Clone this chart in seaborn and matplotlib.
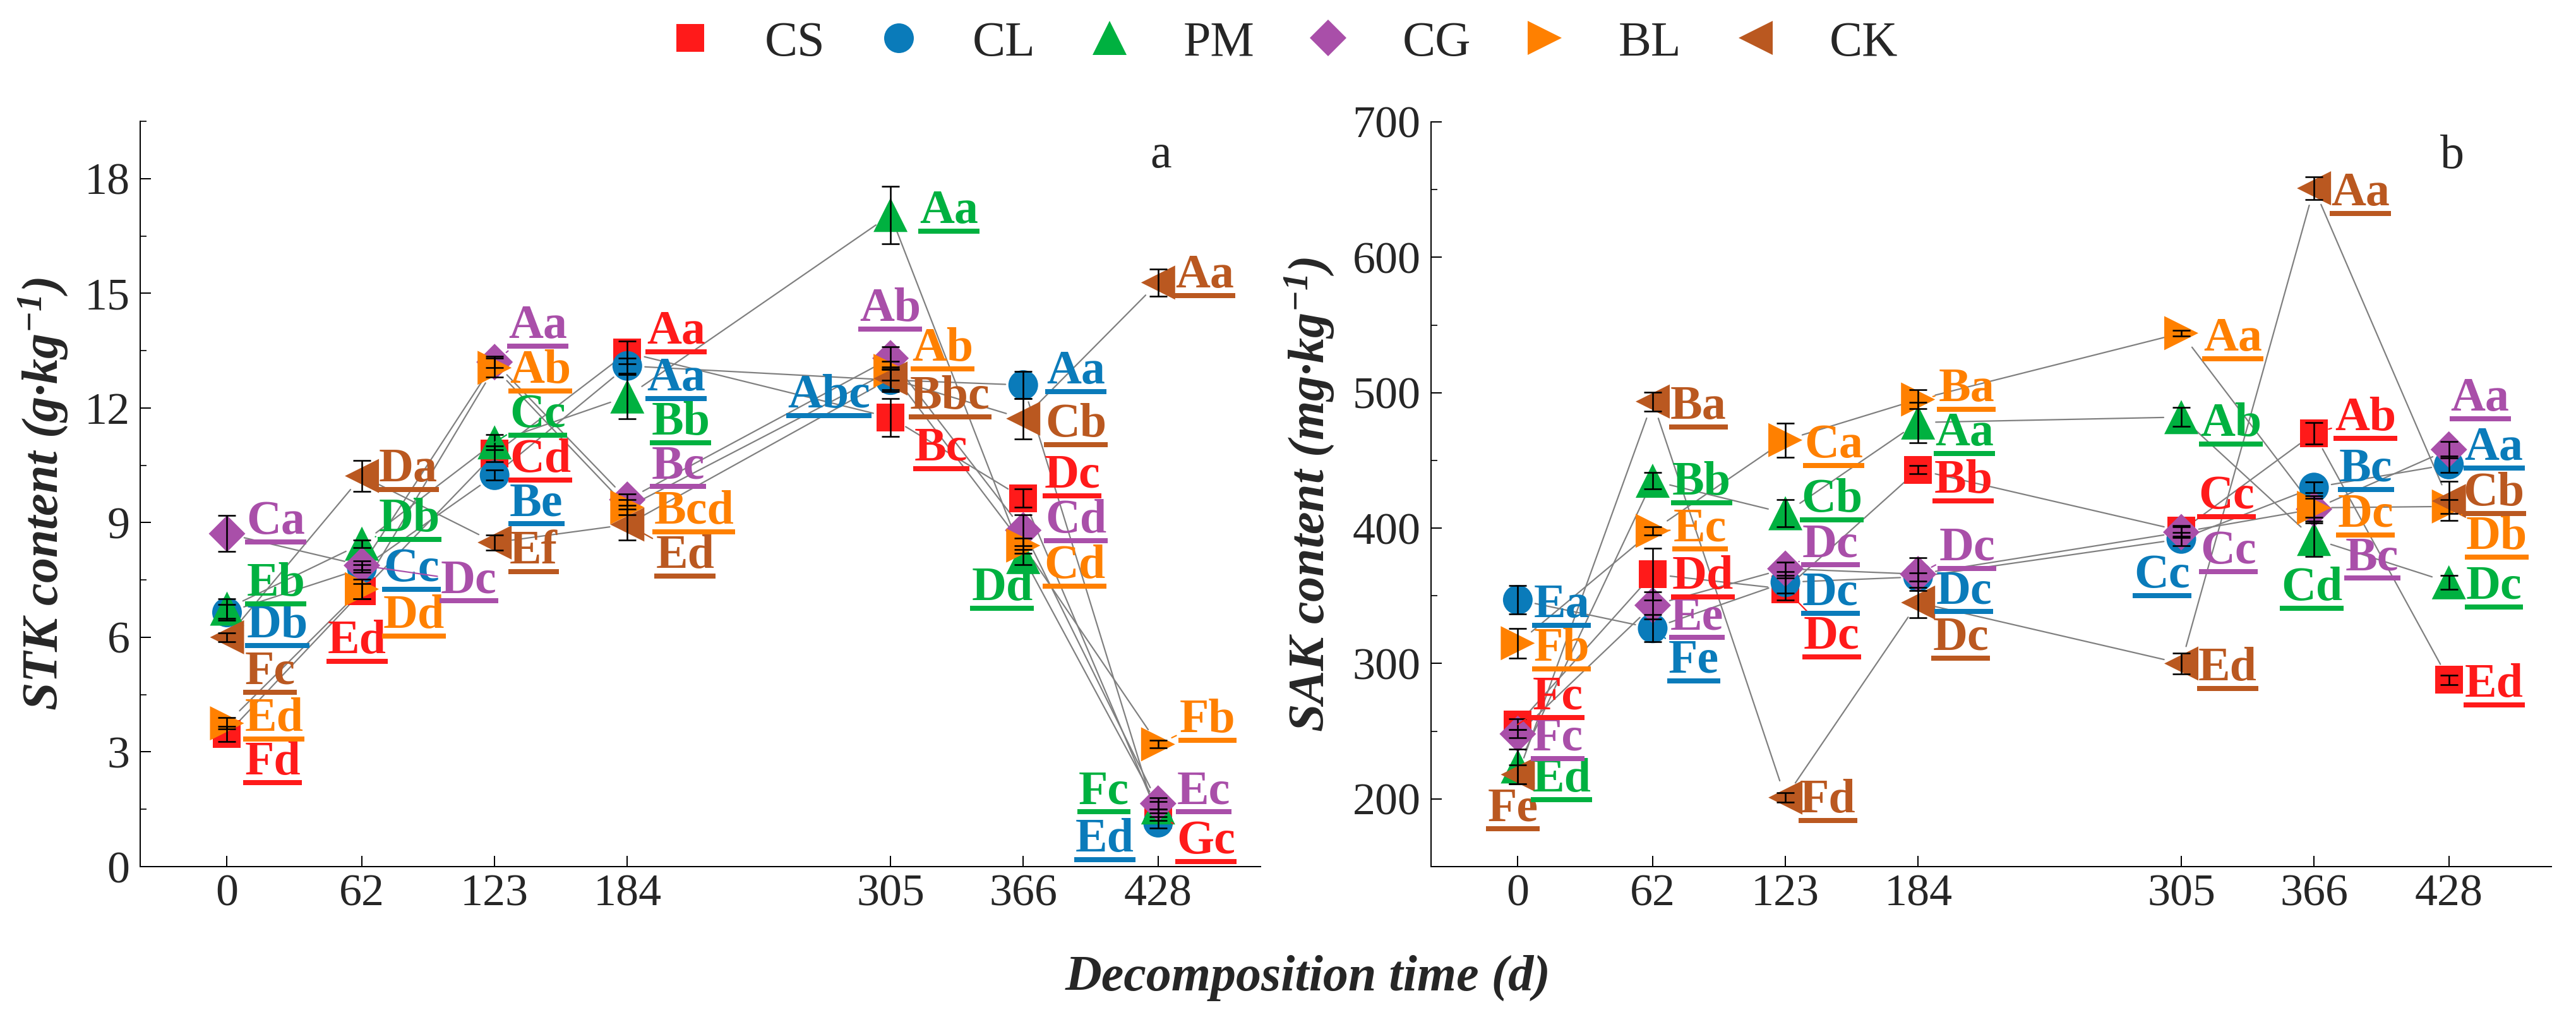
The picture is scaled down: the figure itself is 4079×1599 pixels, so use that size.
import numpy as np
import pandas as pd
import seaborn as sns
import matplotlib.pyplot as plt
from matplotlib import font_manager
from matplotlib.lines import Line2D
from matplotlib.text import Text
from matplotlib.ticker import MultipleLocator
from matplotlib.transforms import IdentityTransform

days = [0, 62, 123, 184, 305, 366, 428]
treatments = ['CS', 'CL', 'PM', 'CG', 'BL', 'CK']

# panel a: STK content (g/kg), mean and sd
stk_cs = [3.47, 7.2, 10.8, 13.45, 11.75, 9.64, 1.35]
stk_cl = [6.65, 7.8, 10.24, 13.1, 12.73, 12.6, 1.15]
stk_pm = [6.75, 8.45, 11.1, 12.3, 17.05, 8.1, 1.55]
stk_cg = [8.71, 7.88, 13.2, 9.6, 13.3, 8.8, 1.65]
stk_bl = [3.75, 7.26, 13.05, 9.4, 12.97, 8.4, 3.2]
stk_ck = [6.0, 10.22, 8.48, 8.95, 12.77, 11.72, 15.28]

stk_cs_sd = [0.2, 0.2, 0.2, 0.3, 0.5, 0.24, 0.15]
stk_cl_sd = [0.2, 0.1, 0.13, 0.2, 0.3, 0.35, 0.15]
stk_pm_sd = [0.25, 0.1, 0.2, 0.58, 0.75, 0.2, 0.15]
stk_cg_sd = [0.47, 0.12, 0.15, 0.15, 0.3, 0.4, 0.15]
stk_bl_sd = [0.15, 0.26, 0.25, 0.2, 0.25, 0.2, 0.1]
stk_ck_sd = [0.12, 0.4, 0.2, 0.4, 0.3, 0.53, 0.35]

stk_cs_lab = ['Fd', 'Ed', 'Cd', 'Aa', 'Bc', 'Dc', 'Gc']
stk_cl_lab = ['Db', 'Cc', 'Be', 'Aa', 'Abc', 'Aa', 'Ed']
stk_pm_lab = ['Eb', 'Db', 'Cc', 'Bb', 'Aa', 'Dd', 'Fc']
stk_cg_lab = ['Ca', 'Dc', 'Aa', 'Bc', 'Ab', 'Cd', 'Ec']
stk_bl_lab = ['Ed', 'Dd', 'Ab', 'Bcd', 'Ab', 'Cd', 'Fb']
stk_ck_lab = ['Fc', 'Da', 'Ef', 'Ed', 'Bbc', 'Cb', 'Aa']

# panel b: SAK content (mg/kg), mean and sd
sak_cs = [255, 366, 355, 443, 398, 470, 288]
sak_cl = [347, 326, 360, 364, 392, 430, 447]
sak_pm = [224, 435, 411, 478, 482, 392, 360]
sak_cg = [248, 343, 370, 366, 397, 414, 458]
sak_bl = [315, 398, 465, 495, 544, 415, 416]
sak_ck = [218, 493.5, 201, 345, 300, 651, 420]

sak_cs_sd = [4, 19, 8, 3, 4, 8, 3.5]
sak_cl_sd = [10.5, 10, 8, 3, 5, 4, 6]
sak_pm_sd = [13, 6, 10, 15, 7, 13, 5]
sak_cg_sd = [3, 10, 5, 12, 4, 10, 6]
sak_bl_sd = [11, 3, 12.5, 7, 2, 7, 5]
sak_ck_sd = [7, 7, 3.5, 11, 7.5, 8.5, 14.5]

sak_cs_lab = ['Fc', 'Dd', 'Dc', 'Bb', 'Cc', 'Ab', 'Ed']
sak_cl_lab = ['Ea', 'Fe', 'Dc', 'Dc', 'Cc', 'Bc', 'Aa']
sak_pm_lab = ['Ed', 'Bb', 'Cb', 'Aa', 'Ab', 'Cd', 'Dc']
sak_cg_lab = ['Fc', 'Ee', 'Dc', 'Dc', 'Cc', 'Bc', 'Aa']
sak_bl_lab = ['Fb', 'Ec', 'Ca', 'Ba', 'Aa', 'Dc', 'Db']
sak_ck_lab = ['Fe', 'Ba', 'Fd', 'Dc', 'Ed', 'Aa', 'Cb']

# ---- layout: label offsets (points right, points down) from each marker
off_a = {
    'CS': [(28, 64), (-54, 98), (24, 29), (31, -14), (38, 68), (33, -17), (29, 61)],
    'CL': [(31, 39), (34, 20), (24, 64), (31, 39), (-163, 43), (37, -3), (-131, 46)],
    'PM': [(31, -21), (27, -20), (24, -24), (38, 60), (46, 13), (-82, 68), (-126, -6)],
    'CG': [(31, 0), (125, 43), (22, -38), (38, -34), (-49, -59), (35, 4), (30, 0)],
    'BL': [(28, 12), (34, 61), (24, 24), (42, 26), (34, -16), (33, 51), (34, -19)],
    'CK': [(28, 74), (27, 8), (24, 33), (45, 69), (31, 48), (35, 28), (27, 8)],
}
off_b = {
    'CS': [(23, -24), (31, 23), (29, 94), (25, 36), (27, -35), (33, -5), (25, 27)],
    'CL': [(25, 27), (25, 70), (27, 36), (28, 42), (-75, 77), (40, -10), (25, -7)],
    'PM': [(23, 40), (31, 22), (25, -3), (27, 36), (30, 30), (-52, 97), (27, 26)],
    'CG': [(23, 26), (28, 38), (27, -19), (33, -22), (30, 49), (50, 96), (3, -62)],
    'BL': [(25, 28), (33, 16), (30, 27), (32, 3), (35, 28), (37, 30), (27, 67)],
    'CK': [(-48, 73), (28, 27), (23, 23), (23, 75), (27, 27), (27, 27), (23, 7)],
}
# labels that have a short leader line
lead_a = [('CK', 0), ('PM', 62), ('CG', 62), ('CG', 123), ('PM', 123), ('CK', 184),
          ('BL', 428), ('CS', 428)]
lead_b = [('CS', 0), ('BL', 62), ('CL', 62), ('CG', 123), ('CS', 123), ('BL', 184),
          ('CG', 184), ('CK', 184), ('CS', 305), ('CS', 366), ('BL', 428)]

colors = {'CS': '#FF1A1A', 'CL': '#0A7BBA', 'PM': '#00B140',
          'CG': '#A94FA9', 'BL': '#FF8000', 'CK': '#BA5820'}
markers = {'CS': 's', 'CL': 'o', 'PM': '^', 'CG': 'D', 'BL': '>', 'CK': '<'}
msize = {'CS': 44, 'CL': 47, 'PM': 54, 'CG': 41, 'BL': 54, 'CK': 54}

stk = {'CS': (stk_cs, stk_cs_sd, stk_cs_lab), 'CL': (stk_cl, stk_cl_sd, stk_cl_lab),
       'PM': (stk_pm, stk_pm_sd, stk_pm_lab), 'CG': (stk_cg, stk_cg_sd, stk_cg_lab),
       'BL': (stk_bl, stk_bl_sd, stk_bl_lab), 'CK': (stk_ck, stk_ck_sd, stk_ck_lab)}
sak = {'CS': (sak_cs, sak_cs_sd, sak_cs_lab), 'CL': (sak_cl, sak_cl_sd, sak_cl_lab),
       'PM': (sak_pm, sak_pm_sd, sak_pm_lab), 'CG': (sak_cg, sak_cg_sd, sak_cg_lab),
       'BL': (sak_bl, sak_bl_sd, sak_bl_lab), 'CK': (sak_ck, sak_ck_sd, sak_ck_lab)}

sns.set_theme(style='ticks')
installed = {f.name for f in font_manager.fontManager.ttflist}
serif = next((n for n in ['Liberation Serif', 'Times New Roman', 'DejaVu Serif']
              if n in installed), 'serif')
plt.rcParams['font.family'] = [serif, 'DejaVu Serif']
plt.rcParams['mathtext.fontset'] = 'custom'
plt.rcParams['mathtext.rm'] = serif + ':bold:italic'
plt.rcParams['mathtext.it'] = serif + ':bold:italic'
plt.rcParams['mathtext.bf'] = serif + ':bold:italic'

W, H = 4079, 1599
fig = plt.figure(figsize=(W / 72, H / 72), dpi=72)
ax_a = fig.add_axes([221.7 / W, 1 - 1372 / H, 1774 / W, 1180 / H])
ax_b = fig.add_axes([2265.6 / W, 1 - 1372 / H, 1774 / W, 1179 / H])

label_texts = []


def panel(ax, data, offs, leads):
    rows = []
    for t in treatments:
        for d, v in zip(days, data[t][0]):
            rows.append({'day': d, 'value': v, 'treatment': t})
    df = pd.DataFrame(rows)

    # grey connecting lines with gaps at the markers
    for t in treatments:
        m = data[t][0]
        for i in range(len(days) - 1):
            ax.annotate('', xy=(days[i + 1], m[i + 1]), xytext=(days[i], m[i]),
                        arrowprops=dict(arrowstyle='-', color='#7F7F7F', lw=2.2,
                                        shrinkA=28, shrinkB=28), zorder=2)

    sns.scatterplot(data=df, x='day', y='value', hue='treatment', style='treatment',
                    size='treatment', palette=colors, markers=markers,
                    sizes={k: v ** 2 for k, v in msize.items()},
                    hue_order=treatments, style_order=treatments, size_order=treatments,
                    linewidth=0, legend=False, ax=ax, zorder=3)

    for t in treatments:
        ax.errorbar(days, data[t][0], yerr=data[t][1], fmt='none', ecolor='black',
                    elinewidth=2.6, capsize=14, capthick=2.6, zorder=4)

    for t in treatments:
        m, sd, lab = data[t]
        for i, d in enumerate(days):
            dx, dy = offs[t][i]
            kw = {}
            if (t, d) in leads:
                kw['arrowprops'] = dict(arrowstyle='-', color=colors[t], lw=2.2,
                                        shrinkA=3, shrinkB=24)
            txt = ax.annotate(lab[i], xy=(d, m[i]), xytext=(dx, -dy),
                              textcoords='offset points', ha='left', va='baseline',
                              fontsize=76, fontweight='bold', color=colors[t],
                              zorder=5, **kw)
            label_texts.append((txt, colors[t]))

    ax.set_xlim(-40, 475)
    ax.set_xticks(days)
    ax.set_xlabel('')
    ax.tick_params(axis='both', which='major', direction='in', length=17, width=2,
                   labelsize=72, color='black')
    ax.tick_params(axis='y', which='minor', direction='in', length=10, width=2)
    ax.tick_params(axis='y', pad=16)
    ax.tick_params(axis='x', pad=12)
    ax.tick_params(axis='x', which='minor', bottom=False)
    for s in ['left', 'bottom']:
        ax.spines[s].set_linewidth(2)
        ax.spines[s].set_color('black')
    sns.despine(ax=ax)


panel(ax_a, stk, off_a, lead_a)
ax_a.set_ylim(0, 19.5)
ax_a.yaxis.set_major_locator(MultipleLocator(3))
ax_a.yaxis.set_minor_locator(MultipleLocator(1.5))
ax_a.set_ylabel('STK content (g·kg$^{-1}$)', fontsize=80, fontweight='bold',
                fontstyle='italic')
ax_a.yaxis.set_label_coords(-0.062, 0.5)
ax_a.text(0.902, 0.938, 'a', transform=ax_a.transAxes, fontsize=76, ha='left',
          va='baseline')

panel(ax_b, sak, off_b, lead_b)
ax_b.set_ylim(150, 700)
ax_b.yaxis.set_major_locator(MultipleLocator(100))
ax_b.yaxis.set_minor_locator(MultipleLocator(50))
ax_b.set_yticks([200, 300, 400, 500, 600, 700])
ax_b.set_ylabel('SAK content (mg·kg$^{-1}$)', fontsize=80, fontweight='bold',
                fontstyle='italic')
ax_b.yaxis.set_label_coords(-0.084, 0.5)
ax_b.text(0.901, 0.938, 'b', transform=ax_b.transAxes, fontsize=76, ha='left',
          va='baseline')

fig.text(2071 / W, 1 - 1568 / H, 'Decomposition time (d)', ha='center', va='baseline',
         fontsize=80, fontweight='bold', fontstyle='italic')

handles = [Line2D([], [], linestyle='none', marker=markers[t], color=colors[t],
                  markersize=msize[t], markeredgewidth=0) for t in treatments]
fig.legend(handles, treatments, loc='center', bbox_to_anchor=(0.4976, 1 - 69 / H),
           ncol=6, frameon=False, fontsize=78, handlelength=1.0, handletextpad=1.0,
           columnspacing=1.0)

# underline every significance label
fig.canvas.draw()
renderer = fig.canvas.get_renderer()
for txt, c in label_texts:
    bb = Text.get_window_extent(txt, renderer)
    y = bb.y0 + 3
    fig.add_artist(Line2D([bb.x0 - 2, bb.x1 + 2], [y, y], transform=IdentityTransform(),
                          color=c, lw=8, solid_capstyle='butt'))

fig.savefig('out.png', dpi=72)
